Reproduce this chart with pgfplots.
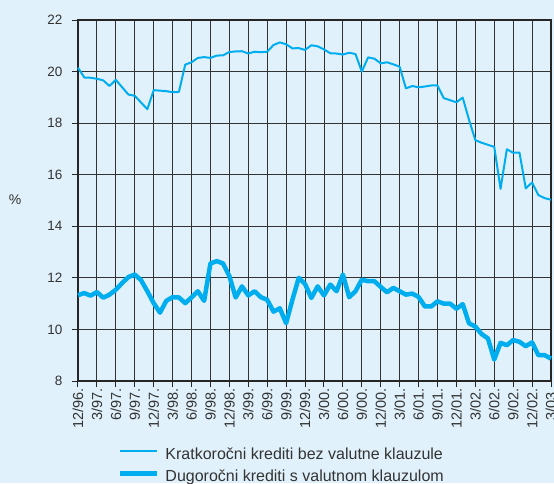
\documentclass[border=0pt]{standalone}
\usepackage{pgfplots}
\pgfplotsset{compat=1.18}
\usepackage{pgfplotstable}
\usepackage{fontspec}
\setmainfont{Liberation Sans}
\definecolor{bg}{HTML}{E0F1FB}
\definecolor{ln}{HTML}{00AEEF}
\definecolor{txt}{HTML}{333333}
\pgfplotstableread{
i a b
0 20.15 11.33
1 19.77 11.41
2 19.76 11.31
3 19.72 11.45
4 19.66 11.23
5 19.44 11.35
6 19.68 11.54
7 19.39 11.80
8 19.11 12.03
9 19.06 12.13
10 18.80 11.91
11 18.54 11.48
12 19.28 11.02
13 19.26 10.65
14 19.24 11.11
15 19.20 11.25
16 19.21 11.24
17 20.27 11.02
18 20.36 11.24
19 20.53 11.48
20 20.56 11.11
21 20.53 12.56
22 20.62 12.65
23 20.63 12.56
24 20.76 12.07
25 20.78 11.24
26 20.79 11.67
27 20.70 11.32
28 20.77 11.48
29 20.75 11.25
30 20.77 11.15
31 21.03 10.69
32 21.13 10.82
33 21.06 10.24
34 20.90 11.15
35 20.91 12.00
36 20.84 11.76
37 21.02 11.22
38 20.98 11.67
39 20.86 11.32
40 20.71 11.74
41 20.70 11.48
42 20.66 12.13
43 20.73 11.25
44 20.68 11.48
45 20.00 11.93
46 20.55 11.87
47 20.50 11.87
48 20.32 11.65
49 20.36 11.44
50 20.28 11.61
51 20.19 11.48
52 19.35 11.35
53 19.44 11.39
54 19.39 11.26
55 19.42 10.89
56 19.46 10.89
57 19.46 11.09
58 18.97 11.00
59 18.89 11.00
60 18.81 10.80
61 18.99 10.98
62 18.13 10.24
63 17.34 10.11
64 17.24 9.82
65 17.16 9.65
66 17.08 8.83
67 15.45 9.48
68 16.99 9.39
69 16.85 9.59
70 16.86 9.52
71 15.47 9.35
72 15.70 9.50
73 15.21 9.00
74 15.09 9.00
75 15.03 8.87
}\data
\begin{document}
\begin{tikzpicture}[x=1pt,y=1pt]
\path[use as bounding box, fill=bg] (-78,-102) rectangle (476,381);
\begin{axis}[
  at={(0,0)}, anchor=south west,
  scale only axis, width=473pt, height=361pt,
  xmin=0, xmax=75, ymin=8, ymax=22,
  xtick={0,3,...,75},
  xticklabels={12/96.,3/97.,6/97.,9/97.,12/97.,3/98.,6/98.,9/98.,12/98.,3/99.,6/99.,9/99.,12/99.,3/00.,6/00.,9/00.,12/00.,3/01.,6/01.,9/01.,12/01.,3/02.,6/02.,9/02.,12/02.,3/03.},
  ytick={8,10,...,22},
  grid=major,
  grid style={black!80, line width=0.9pt},
  axis line style={black!85, line width=1.2pt},
  tick style={black!85, line width=1pt},
  tick align=outside, major tick length=6pt,
  xtick pos=left, ytick pos=left,
  /pgf/number format/assume math mode=true,
  x tick label style={rotate=90, anchor=east, font=\fontsize{14.5}{14.5}\selectfont, text=txt, inner sep=1pt},
  y tick label style={font=\fontsize{13.5}{13.5}\selectfont, text=txt, xshift=-6pt},
  legend style={draw=none, fill=none, at={(0.0845,-0.2368)}, anchor=west,
    inner sep=0pt, outer sep=0pt, row sep=8pt,
    nodes={inner sep=0pt, text height=11pt, text depth=3pt, text=txt},
    font=\fontsize{16}{16}\selectfont},
  legend cell align=left,
  /tikz/every odd column/.append style={column sep=6pt},
  legend image code/.code={\draw[#1] (0pt,4pt) -- (37pt,4pt);},
  clip=false,
]
\addplot[ln, line width=2pt, line join=round] table[x=i, y=a] {\data};
\addlegendentry{Kratkoročni krediti bez valutne klauzule}
\addplot[ln, line width=4.5pt, line join=round] table[x=i, y=b] {\data};
\addlegendentry{Dugoročni krediti s valutnom klauzulom}
\draw[black!85, line width=2pt] (rel axis cs:0,0) -- (rel axis cs:1,0);
\end{axis}
\node[text=txt, font=\fontsize{14}{14}\selectfont] at (-63,181) {\%};
\end{tikzpicture}
\end{document}
